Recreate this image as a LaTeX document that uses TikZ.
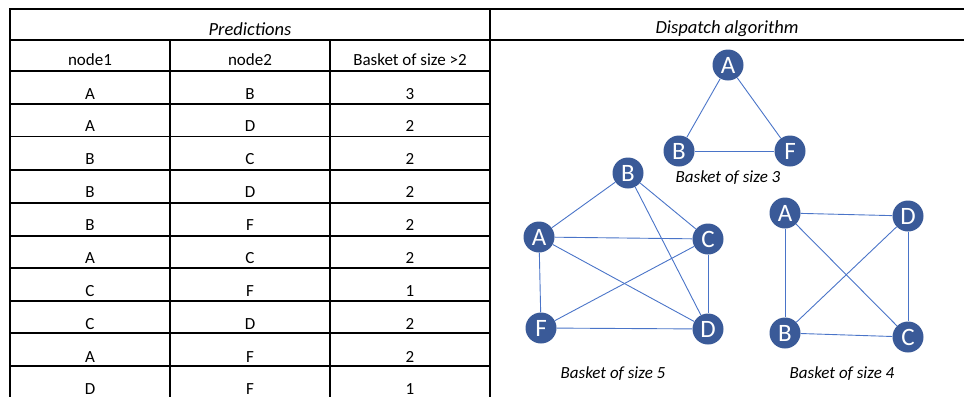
\documentclass[tikz,border=0pt]{standalone}
\usepackage{fontspec}
\setmainfont{Carlito}
\definecolor{vtxblue}{HTML}{3A5A98}
\definecolor{edgeblue}{HTML}{4A74C8}
\begin{document}
\begin{tikzpicture}[x=1pt,y=-1pt,
  grid/.style={line width=1.3pt,black},
  cell/.style={anchor=base,font=\fontsize{17}{17}\selectfont,inner sep=0},
  ttl/.style={anchor=base,font=\fontsize{18.5}{18.5}\selectfont\itshape,inner sep=0},
  vtx/.style={circle,fill=vtxblue,text=white,minimum size=31pt,inner sep=0,font=\fontsize{25}{25}\selectfont},
  edge/.style={draw=edgeblue,line width=0.9pt},
  captxt/.style={anchor=base,inner sep=0,font=\fontsize{17}{17}\selectfont\itshape}
]
\useasboundingbox (0,0) rectangle (964,397);
% table grid
\draw[grid] (964,9) -- (10,9) -- (10,397);
\draw[grid] (10,40) -- (964,40);
\draw[grid] (490,9) -- (490,397);
\draw[grid] (170,40) -- (170,397);
\draw[grid] (330,40) -- (330,397);
\foreach \yy in {71,104,136.5,170,203,236,268,301,333,366}
  \draw[grid] (10,\yy) -- (490,\yy);
% titles
\node[ttl] (tpred) at (250,35.5) {Predictions};
\node[ttl] (tdisp) at (727,33.5) {Dispatch algorithm};
% header
\node[cell] (h1) at (90,65.5) {node1};
\node[cell] (h2) at (250,65.5) {node2};
\node[cell] (h3) at (410,65.5) {Basket of size >2};
% rows
\foreach \a/\b/\c/\yy [count=\i] in {A/B/3/99, A/D/2/131.5, B/C/2/164.5, B/D/2/197.5, B/F/2/230.5, A/C/2/263.5, C/F/1/296.5, C/D/2/329, A/F/2/362, D/F/1/394.5}{
  \node[cell] (r\i a) at (90,\yy) {\a};
  \node[cell] (r\i b) at (250,\yy) {\b};
  \node[cell] (r\i c) at (410,\yy) {\c};
}
% basket of size 3
\node[vtx] (tA) at (728,65) {A};
\node[vtx] (tB) at (679,151) {B};
\node[vtx] (tF) at (790,151) {F};
\draw[edge] (tA) -- (tB);
\draw[edge] (tA) -- (tF);
\draw[edge] (tB) -- (tF);
\node[captxt] (c3) at (728,182) {Basket of size 3};
% basket of size 5
\node[vtx] (fB) at (628,173) {B};
\node[vtx] (fA) at (539,237) {A};
\node[vtx] (fC) at (708,239) {C};
\node[vtx] (fF) at (541,328) {F};
\node[vtx] (fD) at (708,329) {D};
\draw[edge] (fA) -- (fB);
\draw[edge] (fB) -- (fC);
\draw[edge] (fB) -- (fD);
\draw[edge] (fA) -- (fC);
\draw[edge] (fA) -- (fD);
\draw[edge] (fA) -- (fF);
\draw[edge] (fC) -- (fF);
\draw[edge] (fC) -- (fD);
\draw[edge] (fF) -- (fD);
\node[captxt] (c5) at (613,378) {Basket of size 5};
% basket of size 4
\node[vtx] (qA) at (785,213) {A};
\node[vtx] (qD) at (908,216) {D};
\node[vtx] (qB) at (785,333) {B};
\node[vtx] (qC) at (908,337) {C};
\draw[edge] (qA) -- (qD);
\draw[edge] (qA) -- (qB);
\draw[edge] (qA) -- (qC);
\draw[edge] (qD) -- (qB);
\draw[edge] (qD) -- (qC);
\draw[edge] (qB) -- (qC);
\node[captxt] (c4) at (842,378) {Basket of size 4};
\end{tikzpicture}
\end{document}
